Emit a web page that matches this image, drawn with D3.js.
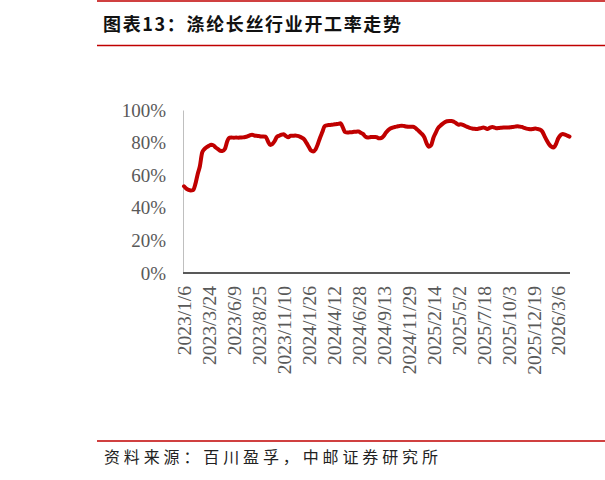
<!DOCTYPE html>
<html>
<head>
<meta charset="utf-8">
<style>
  body, html { margin: 0; padding: 0; background: #fff; }
</style>
</head>
<body>
<svg id="svg" width="605" height="480"></svg>
<script src="https://cdn.jsdelivr.net/npm/d3@7"></script>
<script>
// weekly operating rate (%), first week 2023/1/6
const startDate = new Date(2023, 0, 6)
const rates = [
  53.2, 51.8, 51.0, 50.6, 50.8, 54.5, 60.5, 65.5, 73.8, 76.0,
  77.2, 78.0, 78.7, 78.3, 77.0, 76.0, 75.0, 74.8, 76.0, 80.5,
  83.0, 83.1, 83.0, 83.1, 83.0, 83.1, 83.2, 83.4, 83.8, 84.4,
  84.8, 84.4, 84.2, 84.0, 83.8, 83.8, 83.6, 80.8, 78.6, 79.2,
  81.0, 83.6, 84.2, 84.9, 85.1, 84.0, 83.3, 84.2, 84.2, 84.3,
  84.1, 83.7, 83.0, 82.0, 79.8, 77.5, 75.2, 74.6, 75.8, 79.0,
  83.0, 86.5, 90.0, 90.6, 90.8, 90.9, 91.1, 91.3, 91.5, 91.9,
  89.5, 86.5, 86.2, 86.3, 86.4, 86.6, 86.7, 86.8, 86.0, 85.2,
  83.6, 83.1, 83.3, 83.5, 83.4, 83.3, 82.6, 82.8, 84.0, 86.0,
  87.6, 88.6, 89.2, 89.6, 89.9, 90.2, 90.4, 90.2, 89.9, 89.8,
  89.8, 89.8, 89.0, 87.8, 86.5, 85.2, 83.2, 79.5, 77.5, 78.5,
  83.0, 86.0, 88.8, 90.3, 91.5, 92.5, 93.1, 93.3, 93.3, 92.8,
  91.9, 91.0, 91.2, 90.9, 90.2, 89.6, 89.0, 88.7, 88.5, 88.4,
  88.6, 88.9, 89.2, 88.8, 88.4, 89.2, 89.6, 89.2, 88.8, 89.0,
  89.1, 89.2, 89.3, 89.3, 89.4, 89.6, 89.8, 90.0, 89.8, 89.6,
  89.0, 88.6, 88.3, 88.2, 88.4, 88.6, 88.3, 88.0, 86.8, 84.0,
  81.3, 79.0, 77.5, 77.0, 79.0, 82.5, 84.5, 85.2, 84.9, 84.3,
  83.7
]
const dates = rates.map((d, i) => d3.timeDay.offset(startDate, i * 7))
const tickEvery = 11
const yTicks = [0, 20, 40, 60, 80, 100]

const titleText = '图表13：涤纶长丝行业开工率走势'
const sourceText = '资料来源：百川盈孚，中邮证券研究所'

const svg = d3.select('#svg')
const red = '#c00000'
const grey = '#595959'

// header / footer rules
svg.append('line').attr('x1', 97).attr('x2', 605).attr('y1', 1).attr('y2', 1)
  .attr('stroke', red).attr('stroke-width', 1.5)
svg.append('line').attr('x1', 97).attr('x2', 605).attr('y1', 45.5).attr('y2', 45.5)
  .attr('stroke', red).attr('stroke-width', 1.5)
svg.append('line').attr('x1', 97).attr('x2', 605).attr('y1', 441).attr('y2', 441)
  .attr('stroke', red).attr('stroke-width', 1.5)

svg.append('text')
  .attr('x', 103).attr('y', 31)
  .attr('font-family', '"Noto Sans CJK SC", sans-serif')
  .attr('font-weight', 'bold')
  .attr('font-size', 18)
  .attr('fill', '#111')
  .attr('textLength', 298)
  .text(titleText)

svg.append('text')
  .attr('x', 104).attr('y', 463)
  .attr('font-family', '"Noto Sans CJK SC", sans-serif')
  .attr('font-size', 16)
  .attr('fill', '#222')
  .attr('textLength', 334)
  .text(sourceText)

// scales
const x = d3.scalePoint()
  .domain(d3.range(rates.length))
  .range([184, 569.5])
const y = d3.scaleLinear()
  .domain([0, 100])
  .range([273, 110])

const fmt = d => `${d.getFullYear()}/${d.getMonth() + 1}/${d.getDate()}`

// y axis
const yAxis = svg.append('g')
  .attr('transform', 'translate(183,0)')
  .call(d3.axisLeft(y).tickValues(yTicks).tickSize(0).tickPadding(17).tickFormat(d => d + '%'))
yAxis.select('.domain').attr('stroke', '#bfbfbf').attr('stroke-width', 1)
yAxis.selectAll('text')
  .attr('font-family', '"Liberation Serif", "Times New Roman", serif')
  .attr('font-size', 19)
  .attr('fill', grey)

// x axis
const xAxis = svg.append('g')
  .attr('transform', 'translate(0,273)')
  .call(d3.axisBottom(x)
    .tickValues(d3.range(0, rates.length, tickEvery))
    .tickSize(0)
    .tickFormat(i => fmt(dates[i])))
xAxis.select('.domain')
  .attr('d', `M183,0H570`)
  .attr('stroke', grey).attr('stroke-width', 2)
xAxis.selectAll('text')
  .attr('font-family', '"Liberation Serif", "Times New Roman", serif')
  .attr('font-size', 19.5)
  .attr('fill', grey)
  .attr('text-anchor', 'end')
  .attr('transform', 'rotate(-90)')
  .attr('x', -13)
  .attr('y', 0)
  .attr('dy', '0.35em')

// line
const line = d3.line()
  .x((d, i) => x(i))
  .y(d => y(d))
  .curve(d3.curveMonotoneX)

svg.append('path')
  .datum(rates)
  .attr('d', line)
  .attr('fill', 'none')
  .attr('stroke', red)
  .attr('stroke-width', 4)
  .attr('stroke-linejoin', 'round')
  .attr('stroke-linecap', 'round')
</script>
</body>
</html>
